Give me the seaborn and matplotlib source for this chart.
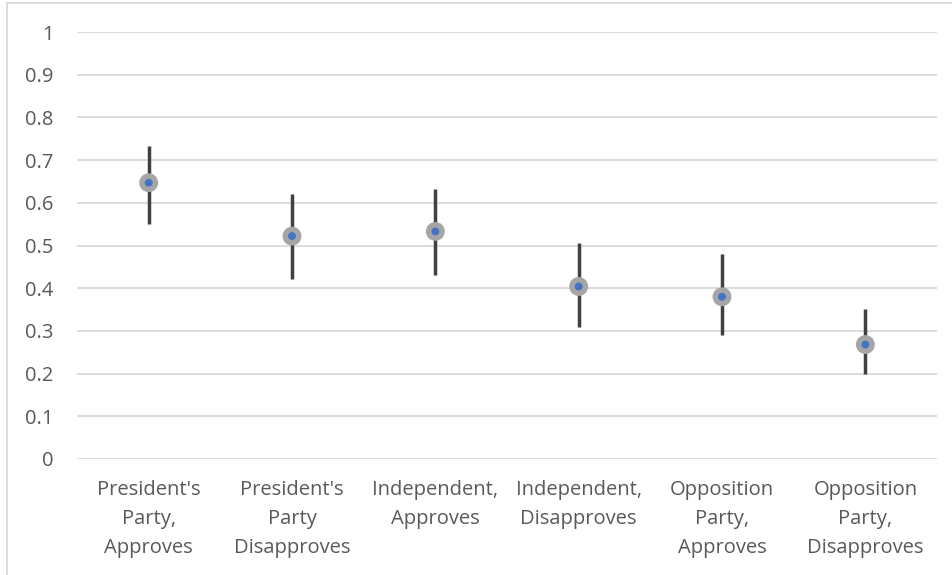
import numpy as np
import pandas as pd
import matplotlib
matplotlib.use('Agg')
import matplotlib.pyplot as plt
import seaborn as sns
from matplotlib.lines import Line2D

# 資料
groups = ["President's\nParty,\nApproves", "President's\nParty\nDisapproves",
          "Independent,\nApproves", "Independent,\nDisapproves",
          "Opposition\nParty,\nApproves", "Opposition\nParty,\nDisapproves"]
estimate = [0.647, 0.522, 0.533, 0.404, 0.380, 0.268]
ci_low = [0.551, 0.421, 0.430, 0.310, 0.290, 0.198]
ci_high = [0.733, 0.621, 0.632, 0.505, 0.479, 0.352]
yticks = [0, 0.1, 0.2, 0.3, 0.4, 0.5, 0.6, 0.7, 0.8, 0.9, 1]
ytick_labels = ['0', '0.1', '0.2', '0.3', '0.4', '0.5', '0.6', '0.7', '0.8', '0.9', '1']

df = pd.DataFrame({'group': groups, 'est': estimate, 'lo': ci_low, 'hi': ci_high})

sns.set_theme(style='white')
plt.rcParams['font.family'] = ['Open Sans', 'DejaVu Sans']

fig = plt.figure(figsize=(9.53, 5.75), dpi=100)
ax = fig.add_axes([77/953, 1 - 459/575, 860/953, 427/575])

# 誤差線
ax.vlines(x=np.arange(len(df)), ymin=df['lo'], ymax=df['hi'], color='#404040', lw=2.5, zorder=2)
# 點: 灰色外圈 + 藍色內點
sns.scatterplot(data=df, x='group', y='est', ax=ax, s=185, color='#A5A5A5', edgecolor='none', zorder=3, legend=False)
sns.scatterplot(data=df, x='group', y='est', ax=ax, s=32, color='#4472C4', edgecolor='none', zorder=4, legend=False)

ax.set_xlim(-0.5, len(df) - 0.5)
ax.set_ylim(0, 1)
ax.set_yticks(yticks)
ax.set_yticklabels(ytick_labels)
ax.set_xlabel(''); ax.set_ylabel('')
ax.grid(axis='y', color='#D9D9D9', lw=1.3)
ax.set_axisbelow(True)
for s in ax.spines.values():
    s.set_visible(False)
ax.tick_params(axis='y', length=0, pad=17, labelsize=14.5, labelcolor='#595959')
ax.tick_params(axis='x', length=0, pad=15, labelsize=14.5, labelcolor='#595959')
for lab in ax.get_xticklabels():
    lab.set_linespacing(1.6)
    lab.set_horizontalalignment('center')
    lab.set_verticalalignment('top')

# 外框 (只有上和左)
fig.add_artist(Line2D([7/953, 7/953], [0, 1 - 3/575], transform=fig.transFigure, color='#D9D9D9', lw=1.3))
fig.add_artist(Line2D([7/953, 1], [1 - 3/575, 1 - 3/575], transform=fig.transFigure, color='#D9D9D9', lw=1.3))

fig.savefig('out.png', dpi=100, facecolor='white')
